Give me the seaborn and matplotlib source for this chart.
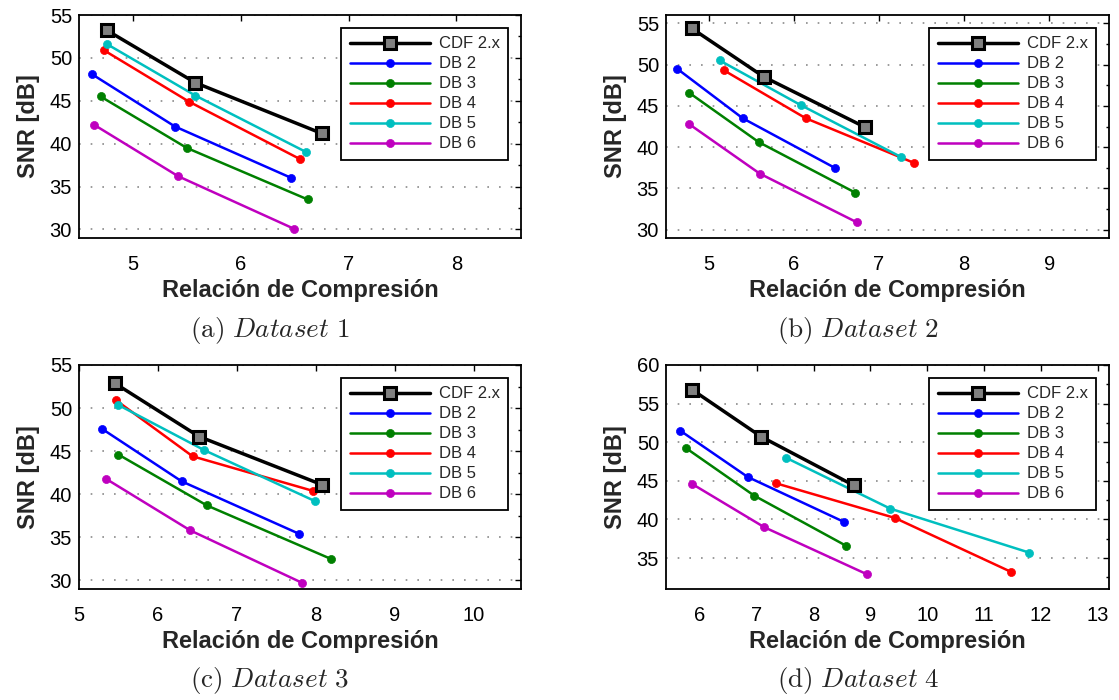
import matplotlib
matplotlib.use("Agg")
import matplotlib.pyplot as plt
import seaborn as sns
import pandas as pd
from matplotlib.ticker import MultipleLocator, FixedLocator

# ---------------- data ----------------
series = ["CDF 2.x", "DB 2", "DB 3", "DB 4", "DB 5", "DB 6"]

# Dataset 1
rc_d1 = [[4.76, 5.58, 6.75], [4.62, 5.39, 6.47], [4.70, 5.50, 6.62],
         [4.73, 5.52, 6.55], [4.76, 5.58, 6.61], [4.64, 5.42, 6.49]]
snr_d1 = [[53.2, 47.1, 41.2], [48.1, 42.0, 36.0], [45.5, 39.5, 33.5],
          [50.9, 44.9, 38.2], [51.6, 45.6, 39.0], [42.2, 36.2, 30.1]]

# Dataset 2
rc_d2 = [[4.80, 5.65, 6.84], [4.63, 5.40, 6.48], [4.77, 5.59, 6.72],
         [5.18, 6.14, 7.41], [5.13, 6.08, 7.26], [4.77, 5.60, 6.74]]
snr_d2 = [[54.4, 48.5, 42.4], [49.5, 43.5, 37.5], [46.6, 40.6, 34.5],
          [49.3, 43.5, 38.1], [50.5, 45.1, 38.8], [42.8, 36.8, 30.9]]

# Dataset 3
rc_d3 = [[5.45, 6.52, 8.08], [5.29, 6.30, 7.79], [5.50, 6.62, 8.19],
         [5.47, 6.44, 7.96], [5.49, 6.59, 7.99], [5.34, 6.41, 7.83]]
snr_d3 = [[52.9, 46.7, 41.1], [47.6, 41.5, 35.4], [44.6, 38.7, 32.5],
          [50.9, 44.4, 40.4], [50.4, 45.1, 39.2], [41.8, 35.8, 29.7]]

# Dataset 4
rc_d4 = [[5.86, 7.08, 8.71], [5.65, 6.84, 8.53], [5.76, 6.95, 8.57],
         [7.33, 9.43, 11.48], [7.51, 9.35, 11.80], [5.86, 7.13, 8.94]]
snr_d4 = [[56.8, 50.7, 44.4], [51.5, 45.5, 39.7], [49.2, 43.1, 36.6],
          [44.7, 40.2, 33.2], [48.0, 41.4, 35.7], [44.6, 39.0, 32.9]]

panel_letters = ["(a)", "(b)", "(c)", "(d)"]
dataset_names = ["Dataset 1", "Dataset 2", "Dataset 3", "Dataset 4"]
xticks_list = [[5, 6, 7, 8], [5, 6, 7, 8, 9], [5, 6, 7, 8, 9, 10],
               [6, 7, 8, 9, 10, 11, 12, 13]]
yticks_list = [[30, 35, 40, 45, 50, 55], [30, 35, 40, 45, 50, 55],
               [30, 35, 40, 45, 50, 55], [35, 40, 45, 50, 55, 60]]
x_label = "Relación de Compresión"
y_label = "SNR [dB]"

# ---------------- style ----------------
sns.set_style("white")
plt.rcParams["font.family"] = ["Liberation Sans", "DejaVu Sans"]
plt.rcParams["mathtext.fontset"] = "cm"

colors = ["black", (0, 0, 1), (0, 0.5, 0), (1, 0, 0), (0, 0.75, 0.75), (0.75, 0, 0.75)]

W, H = 1119, 700
fig = plt.figure(figsize=(W / 100, H / 100), dpi=100)

# axes boxes in pixels: left, top, right, bottom
boxes = [(79, 15, 521, 238), (666, 15, 1109, 238),
         (79, 365, 521, 589), (666, 365, 1109, 589)]
xlims = [(4.5, 8.6), (4.5, 9.7), (5.0, 10.6), (5.4, 13.2)]
ylims = [(29, 55), (29, 56), (29, 55), (31, 60)]
cap_pos = [(270, 331), (858, 331), (270, 681), (858, 681)]

all_rc = [rc_d1, rc_d2, rc_d3, rc_d4]
all_snr = [snr_d1, snr_d2, snr_d3, snr_d4]

for i in range(4):
    l, t, r, b = boxes[i]
    ax = fig.add_axes([l / W, 1 - b / H, (r - l) / W, (b - t) / H])
    rows = []
    for s, xs, ys in zip(series, all_rc[i], all_snr[i]):
        for xv, yv in zip(xs, ys):
            rows.append({"serie": s, "rc": xv, "snr": yv})
    df = pd.DataFrame(rows)
    for k, s in enumerate(series):
        sub = df[df["serie"] == s]
        if k == 0:
            sns.lineplot(data=sub, x="rc", y="snr", ax=ax, color="black",
                         linewidth=2.5, marker="s", markersize=8.5,
                         markerfacecolor=(0.5, 0.5, 0.5), markeredgecolor="black",
                         markeredgewidth=2.2, label=s, errorbar=None, sort=False,
                         zorder=5)
        else:
            sns.lineplot(data=sub, x="rc", y="snr", ax=ax, color=colors[k],
                         linewidth=1.8, marker="o", markersize=5.8,
                         markerfacecolor=colors[k], markeredgecolor=colors[k],
                         markeredgewidth=0.5, label=s, errorbar=None, sort=False,
                         zorder=4)
    ax.set_xlim(*xlims[i])
    ax.set_ylim(*ylims[i])
    ax.xaxis.set_major_locator(FixedLocator(xticks_list[i]))
    ax.yaxis.set_major_locator(FixedLocator(yticks_list[i]))
    ax.yaxis.set_minor_locator(MultipleLocator(2.5))
    ax.tick_params(axis="both", which="both", direction="in", top=True, right=True,
                   colors="black", width=1.0)
    ax.tick_params(axis="both", which="major", length=4.5, labelsize=14.5)
    ax.tick_params(axis="x", which="major", pad=12)
    ax.tick_params(axis="y", which="major", pad=5)
    ax.tick_params(axis="y", which="minor", length=2.5)
    ax.tick_params(axis="x", which="minor", bottom=False, top=False)
    for sp in ax.spines.values():
        sp.set_color("black")
        sp.set_linewidth(1.3)
    ax.yaxis.grid(True, linestyle=(0, (1, 6)), color="#8a8a8a", linewidth=1.2)
    ax.xaxis.grid(False)
    ax.set_axisbelow(True)
    ax.set_xlabel(x_label, fontsize=17, fontweight="bold", labelpad=3.5)
    ax.set_ylabel(y_label, fontsize=17, fontweight="bold", labelpad=7)
    aw = r - l
    ah = b - t
    leg = ax.legend(loc="upper right", bbox_to_anchor=(1 - 13 / aw, 1 - 13 / ah),
                    borderaxespad=0, fontsize=12, frameon=True, fancybox=False,
                    shadow=False, framealpha=1, edgecolor="black", handlelength=4.8,
                    handletextpad=0.55, labelspacing=0.3, borderpad=0.5,
                    numpoints=1)
    leg.get_frame().set_linewidth(1.3)
    leg.set_zorder(10)
    cx, cy = cap_pos[i]
    cap = r"$\mathrm{" + panel_letters[i] + r"}\ " + dataset_names[i].split()[0] + r"\ " + \
        dataset_names[i].split()[1] + r"$"
    fig.text(cx / W, 1 - cy / H, cap, ha="center", va="center", fontsize=19.5)

fig.savefig("out.png", dpi=100)
